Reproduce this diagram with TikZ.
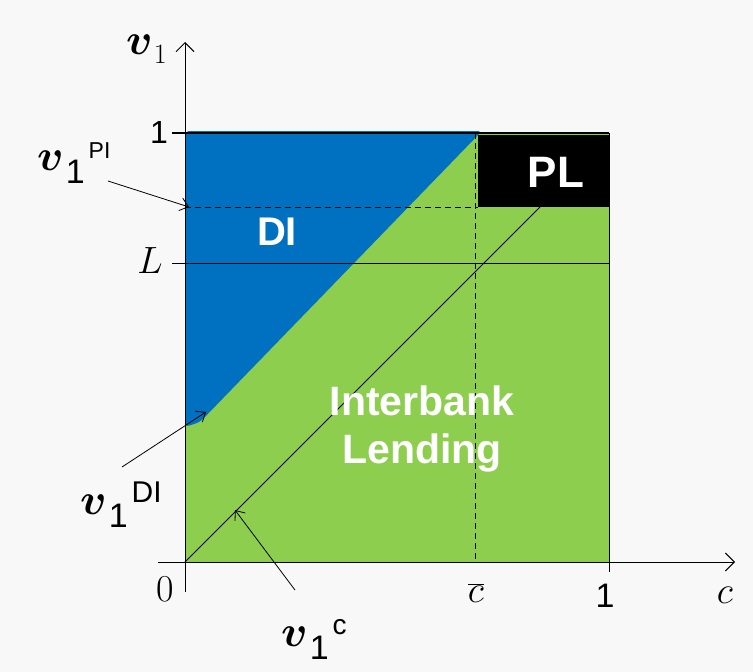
\RequirePackage{fix-cm}
\documentclass[tikz,border=0pt]{standalone}
\usepackage{fontspec}
\setsansfont{Liberation Sans}
\usepackage{bm}
\usetikzlibrary{arrows.meta}
\definecolor{ibgreen}{RGB}{142,206,78}
\definecolor{diblue}{RGB}{0,112,192}
\definecolor{bgc}{RGB}{248,248,248}
\tikzset{
  axis/.style={line width=0.9pt,-{Straight Barb[length=9pt,width=18pt]}},
  ptr/.style={line width=0.8pt,-{Straight Barb[length=8pt,width=13pt]}},
  region/.style={text=white,anchor=base,inner sep=0pt,font=\sffamily\bfseries\fontsize{41}{46}\selectfont},
  lbl/.style={anchor=base,inner sep=0pt,font=\fontsize{38}{42}\selectfont},
  sflbl/.style={anchor=base,inner sep=0pt,font=\sffamily\fontsize{34}{38}\selectfont},
  vlbl/.style={anchor=base west,inner sep=0pt}
}
\newcommand{\bigv}{{\fontsize{44}{48}\selectfont$\bm{v}$}}
\newcommand{\vsup}[2]{\bigv\kern2pt\raisebox{-13pt}{\sffamily\fontsize{34}{38}\selectfont 1}\kern4pt\raisebox{12pt}{\sffamily\fontsize{#2}{#2}\selectfont #1}}
\begin{document}
\begin{tikzpicture}[x=1pt,y=-1pt]
\fill[bgc] (0,0) rectangle (753,672);
\useasboundingbox (0,0) rectangle (753,672);
% regions
\fill[ibgreen] (185,133) rectangle (609,562);
\fill[diblue,rounded corners=4pt] (185,131) -- (482,131) -- (200,422) -- (185,427) -- cycle;
\fill[black] (478,135) rectangle (609,207);
% lines
\draw[line width=1.6pt] (172,133) -- (609,133);
\draw[line width=0.8pt] (609,133) -- (609,572);
\draw[line width=0.8pt] (172,263) -- (609,263);
\draw[line width=1pt,dash pattern=on 6pt off 4pt] (185,207) -- (478,207);
\draw[line width=1pt,dash pattern=on 6pt off 4pt] (475,133) -- (475,562);
\draw[line width=0.8pt] (185,562) -- (540,207);
% axes
\coordinate (O) at (185,562);
\draw[axis] (185,592) -- (185,42);
\draw[axis] (158,562) -- (735,562);
% region labels
\node[region,font=\sffamily\bfseries\fontsize{40}{44}\selectfont] (DI) at (277,245) {DI};
\node[region,font=\sffamily\bfseries\fontsize{44}{48}\selectfont] (PL) at (556,187) {PL};
\node[region] (IB1) at (422,415) {Interbank};
\node[region] (IB2) at (422,463) {Lending};
% axis labels
\node[vlbl] (v1) at (126,54) {\bigv\kern1pt\raisebox{-9pt}{\fontsize{28}{30}\selectfont 1}};
\node[sflbl,font=\sffamily\fontsize{32}{36}\selectfont] (one) at (159,143) {1};
\node[lbl] (L) at (150,273) {$L$};
\node[lbl] (zero) at (165,601) {0};
\node[lbl] (cbar) at (476,602) {$\overline{c}$};
\node[sflbl] (onex) at (605,607) {1};
\node[lbl] (c) at (725,603) {$c$};
% pointer labels
\node[vlbl] (vPI) at (37,170) {\vsup{PI}{23}};
\node[vlbl] (vDI) at (80,514) {\vsup{DI}{30}};
\node[vlbl] (vC) at (281,646) {\vsup{c}{28}};
\coordinate (pPIs) at (108,181);
\coordinate (pPIe) at (189,207);
\coordinate (pDIs) at (122,467);
\coordinate (pDIe) at (206,412);
\coordinate (pCs) at (295,590);
\coordinate (pCe) at (235,510);
\draw[ptr] (pPIs) -- (pPIe);
\draw[ptr] (pDIs) -- (pDIe);
\draw[ptr] (pCs) -- (pCe);
\end{tikzpicture}
\end{document}
